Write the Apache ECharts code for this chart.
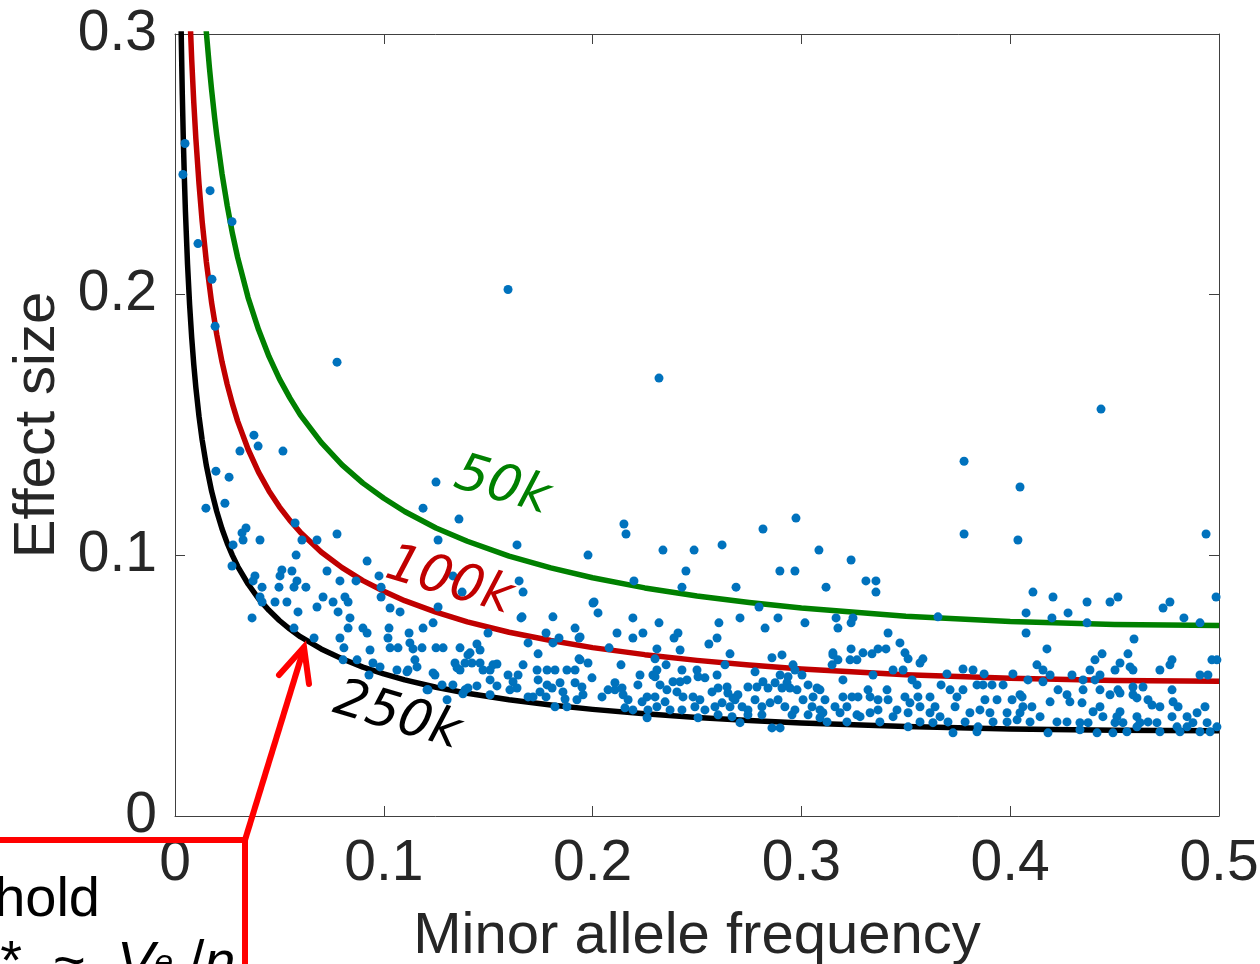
<!DOCTYPE html>
<html><head><meta charset="utf-8">
<script src="https://cdn.jsdelivr.net/npm/echarts@6/dist/echarts.min.js"></script>
<style>html,body{margin:0;padding:0;background:#fff;overflow:hidden}#chart{width:1260px;height:964px}</style>
</head><body><div id="chart"></div>
<script>
const xTickLabels = ['0','0.1','0.2','0.3','0.4','0.5'];
const yTickLabels = ['0','0.1','0.2','0.3'];
const xTitle = 'Minor allele frequency';
const yTitle = 'Effect size';
const curveNames = ['250k','100k','50k'];

const curveMaf250k = [0.0025,0.003,0.0035,0.004,0.0045,0.005,0.006,0.007,0.008,0.009,0.01,0.0115,0.013,0.015,0.0175,0.02,0.0225,0.025,0.0275,0.03,0.035,0.04,0.045,0.05,0.055,0.06,0.07,0.08,0.09,0.1,0.11,0.125,0.14,0.16,0.18,0.2,0.225,0.25,0.275,0.3,0.35,0.4,0.45,0.5];
const curveEffect250k = [0.3274,0.2989,0.2768,0.2590,0.2443,0.2318,0.2117,0.1961,0.1835,0.1731,0.1643,0.1533,0.1443,0.1345,0.1247,0.1168,0.1102,0.1047,0.1000,0.0958,0.0890,0.0834,0.0789,0.0750,0.0717,0.0688,0.0641,0.0603,0.0571,0.0545,0.0522,0.0494,0.0471,0.0446,0.0426,0.0409,0.0392,0.0378,0.0366,0.0357,0.0343,0.0334,0.0329,0.0327];
const curveMaf100k = [0.0065,0.007,0.008,0.009,0.01,0.0115,0.013,0.015,0.0175,0.02,0.0225,0.025,0.0275,0.03,0.035,0.04,0.045,0.05,0.055,0.06,0.07,0.08,0.09,0.1,0.11,0.125,0.14,0.16,0.18,0.2,0.225,0.25,0.275,0.3,0.35,0.4,0.45,0.5];
const curveEffect100k = [0.3217,0.3101,0.2902,0.2737,0.2598,0.2425,0.2282,0.2127,0.1971,0.1847,0.1743,0.1656,0.1581,0.1515,0.1407,0.1319,0.1247,0.1186,0.1134,0.1089,0.1013,0.0953,0.0903,0.0862,0.0826,0.0782,0.0745,0.0705,0.0673,0.0646,0.0619,0.0597,0.0579,0.0564,0.0542,0.0528,0.0520,0.0517];
const curveMaf50k = [0.014,0.015,0.0165,0.0175,0.019,0.02,0.0225,0.025,0.0275,0.03,0.035,0.04,0.045,0.05,0.055,0.06,0.07,0.08,0.09,0.1,0.11,0.125,0.14,0.16,0.18,0.2,0.225,0.25,0.275,0.3,0.35,0.4,0.45,0.5];
const curveEffect50k = [0.3111,0.3008,0.2870,0.2788,0.2678,0.2611,0.2465,0.2342,0.2235,0.2143,0.1989,0.1866,0.1763,0.1677,0.1604,0.1539,0.1433,0.1347,0.1277,0.1219,0.1168,0.1105,0.1054,0.0997,0.0952,0.0914,0.0875,0.0844,0.0819,0.0798,0.0766,0.0746,0.0735,0.0731];

// [minor allele frequency, effect size]
const snpPoints = [
[0.0048,0.258],[0.0038,0.2461],[0.0168,0.2399],[0.0273,0.228],[0.011,0.2196],[0.0177,0.2059],[0.0192,0.1879],[0.1595,0.202],[0.0776,0.1741],[0.2318,0.168],[0.4435,0.1561],[0.0378,0.1461],[0.0398,0.1419],[0.0311,0.14],[0.0517,0.14],[0.0196,0.1323],[0.0259,0.13],[0.3779,0.1361],[0.4047,0.1262],[0.125,0.1281],[0.0148,0.1181],[0.0239,0.12],[0.1188,0.1181],[0.136,0.1139],[0.2974,0.1143],[0.2816,0.1101],[0.215,0.112],[0.216,0.1082],[0.3779,0.1082],[0.4037,0.1059],[0.4938,0.1082],[0.0575,0.1124],[0.0776,0.1082],[0.034,0.1105],[0.0321,0.1086],[0.0326,0.1059],[0.0407,0.1059],[0.0278,0.104],[0.0608,0.1059],[0.068,0.1059],[0.058,0.1001],[0.126,0.1059],[0.1638,0.104],[0.1978,0.1001],[0.2337,0.102],[0.2486,0.102],[0.262,0.104],[0.3084,0.102],[0.3238,0.0982],[0.092,0.0978],[0.0273,0.0959],[0.0383,0.0921],[0.0374,0.0902],[0.0512,0.0944],[0.0503,0.0921],[0.056,0.094],[0.0584,0.0902],[0.057,0.0878],[0.0627,0.0878],[0.0498,0.0878],[0.0728,0.094],[0.079,0.0902],[0.0977,0.0921],[0.0987,0.0878],[0.0867,0.0902],[0.1331,0.0921],[0.1375,0.0859],[0.1648,0.0902],[0.1667,0.0859],[0.2198,0.0902],[0.2447,0.094],[0.2428,0.0878],[0.2687,0.0878],[0.2897,0.094],[0.2969,0.094],[0.3118,0.0878],[0.3309,0.0902],[0.3357,0.0902],[0.3357,0.0859],[0.4109,0.0859],[0.4205,0.084],[0.4516,0.084],[0.4368,0.0821],[0.4765,0.0821],[0.4986,0.084],[0.2007,0.0821],[0.4478,0.0821],[0.4732,0.0798],[0.4076,0.0779],[0.42,0.076],[0.4277,0.0779],[0.4368,0.0741],[0.4832,0.076],[0.4909,0.0741],[0.3166,0.076],[0.3238,0.0741],[0.3247,0.076],[0.3175,0.0721],[0.3654,0.0764],[0.4076,0.0702],[0.4176,0.0641],[0.4593,0.0679],[0.3415,0.0702],[0.3472,0.0664],
[0.0589,0.0783],[0.0369,0.076],[0.057,0.0721],[0.0666,0.0683],[0.0417,0.0821],[0.0479,0.0821],[0.0536,0.0821],[0.0407,0.084],[0.0709,0.084],[0.0757,0.0821],[0.0814,0.084],[0.0829,0.0821],[0.068,0.0802],[0.0781,0.0783],[0.0987,0.084],[0.103,0.0798],[0.1078,0.0783],[0.079,0.0683],[0.0809,0.0645],[0.0838,0.076],[0.0829,0.0721],[0.09,0.0721],[0.092,0.0702],[0.1025,0.0721],[0.102,0.0683],[0.103,0.0645],[0.1068,0.0645],[0.1121,0.0702],[0.1125,0.0664],[0.1183,0.0645],[0.1188,0.0721],[0.1236,0.0741],[0.125,0.0645],[0.1284,0.0645],[0.1365,0.0645],[0.1403,0.0618],[0.0934,0.0637],[0.0948,0.0587],[0.0872,0.0599],[0.0805,0.0599],[0.0929,0.0541],[0.0982,0.0572],[0.1063,0.056],[0.1116,0.056],[0.1149,0.0599],[0.1159,0.0572],[0.1245,0.0541],[0.1341,0.0587],[0.1351,0.0568],[0.1389,0.0587],[0.1279,0.0503],[0.1331,0.0503],[0.1212,0.0484],[0.1389,0.0484],[0.0417,0.0878],
[0.126,0.0802],[0.114,0.0641],[0.1413,0.0626],[0.1446,0.066],[0.1461,0.0637],[0.1499,0.0702],[0.1662,0.0764],[0.181,0.0764],[0.1777,0.0702],[0.181,0.0664],[0.1839,0.0683],[0.1691,0.0664],[0.1739,0.0622],[0.194,0.0687],[0.1916,0.0721],[0.2002,0.0817],[0.2026,0.0779],[0.2117,0.0702],[0.2079,0.0645],[0.1111,0.0553],[0.1236,0.0549],[0.1365,0.056],[0.1422,0.0587],[0.1461,0.0587],[0.1509,0.056],[0.1542,0.0583],[0.1475,0.056],[0.1403,0.0491],[0.1446,0.0499],[0.1509,0.0522],[0.1542,0.0499],[0.1595,0.0541],[0.1643,0.0541],[0.1619,0.0515],[0.1638,0.0491],[0.1667,0.058],[0.1734,0.056],[0.1782,0.056],[0.182,0.056],[0.1877,0.056],[0.1916,0.056],[0.194,0.0599],[0.1978,0.0587],[0.1739,0.0522],[0.1782,0.0503],[0.1748,0.0476],[0.1806,0.0491],[0.1844,0.0511],[0.1858,0.0476],[0.1916,0.0511],[0.1949,0.0495],[0.1954,0.0465],[0.1997,0.053],[0.2045,0.0457],[0.2074,0.0484],[0.2107,0.0484],[0.1303,0.0446],[0.1379,0.0469],[0.1509,0.0465],[0.1604,0.0484],[0.1691,0.0457],[0.1715,0.0457],[0.1777,0.0457],[0.182,0.0419],[0.1868,0.0449],[0.1877,0.0419],[0.1925,0.0446],[0.1207,0.0484],
[0.1657,0.076],[0.2193,0.076],[0.2318,0.0741],[0.2605,0.0741],[0.2706,0.076],[0.2797,0.0802],[0.2826,0.0721],[0.2888,0.076],[0.3017,0.0741],[0.1935,0.0683],[0.2193,0.0683],[0.2241,0.0702],[0.239,0.0683],[0.2409,0.0702],[0.2419,0.0637],[0.2557,0.066],[0.2596,0.0683],[0.2658,0.0622],[0.2308,0.0641],[0.2299,0.0603],[0.1935,0.0603],[0.2136,0.058],[0.1523,0.058],[0.2227,0.0541],[0.2289,0.0541],[0.2352,0.058],[0.2428,0.056],[0.25,0.056],[0.2596,0.0541],[0.2634,0.058],[0.2859,0.0607],[0.2907,0.0618],[0.296,0.058],[0.3151,0.0618],[0.3147,0.058],[0.2898,0.0541],[0.2778,0.0553],[0.2308,0.056],[0.2299,0.0534],[0.2505,0.0534],[0.2538,0.053],[0.2969,0.056],[0.3003,0.0541],[0.2936,0.0534],
[0.2107,0.0511],[0.2141,0.0491],[0.2146,0.0465],[0.217,0.0446],[0.2217,0.0503],[0.2261,0.0457],[0.2299,0.0457],[0.2323,0.0503],[0.2356,0.0484],[0.2385,0.0515],[0.2419,0.0515],[0.2452,0.0522],[0.2404,0.0476],[0.2433,0.0457],[0.2481,0.0457],[0.2514,0.0446],[0.2572,0.0476],[0.2601,0.0491],[0.2644,0.0495],[0.2648,0.0472],[0.2672,0.0453],[0.2696,0.0465],[0.2744,0.0495],[0.2787,0.0495],[0.2816,0.0515],[0.284,0.0491],[0.2874,0.0511],[0.2907,0.0491],[0.2931,0.0511],[0.2945,0.0491],[0.2979,0.0484],[0.3032,0.0503],[0.3075,0.0491],[0.3056,0.0457],[0.2155,0.0415],[0.2193,0.0407],[0.2237,0.0438],[0.2265,0.0407],[0.2308,0.0419],[0.2347,0.0438],[0.2371,0.0407],[0.2428,0.0407],[0.249,0.0419],[0.2538,0.0407],[0.2586,0.0419],[0.262,0.0434],[0.2658,0.0419],[0.2682,0.0446],[0.2716,0.0419],[0.2744,0.0407],[0.2778,0.0446],[0.2811,0.0419],[0.285,0.0434],[0.2888,0.0446],[0.2921,0.0419],[0.2969,0.0407],[0.3008,0.0446],[0.3051,0.0419],[0.3089,0.0407],[0.2261,0.0377],[0.2505,0.0377],[0.2601,0.0388],[0.2668,0.0381],[0.2706,0.0358],[0.2744,0.0388],[0.2811,0.0388],[0.2859,0.0338],[0.2898,0.0338],[0.2955,0.0388],[0.3032,0.0388],[0.3089,0.0377],
[0.3151,0.0626],[0.3175,0.0599],[0.3238,0.0641],[0.3233,0.0599],[0.3266,0.0599],[0.3295,0.0626],[0.3338,0.0622],[0.3367,0.0641],[0.3405,0.0641],[0.3496,0.0626],[0.3511,0.0603],[0.3568,0.0587],[0.3582,0.0603],[0.3439,0.056],[0.3487,0.056],[0.353,0.0522],[0.3554,0.0503],[0.3199,0.0522],[0.3343,0.0541],[0.3697,0.0545],[0.3774,0.0564],[0.3822,0.056],[0.3875,0.0545],[0.4013,0.0545],[0.3089,0.0484],[0.3113,0.0446],[0.3161,0.0419],[0.3199,0.0457],[0.3242,0.0457],[0.3271,0.0457],[0.3319,0.0484],[0.3329,0.0457],[0.3367,0.0446],[0.341,0.0484],[0.3415,0.0446],[0.3496,0.0457],[0.352,0.0434],[0.3558,0.0457],[0.3616,0.0457],[0.364,0.0419],[0.3669,0.0503],[0.3712,0.0484],[0.3745,0.0457],[0.3774,0.0484],[0.3736,0.0419],[0.3841,0.0503],[0.387,0.0503],[0.3913,0.0503],[0.3966,0.0503],[0.3879,0.0446],[0.3937,0.0446],[0.4009,0.0446],[0.4047,0.0465],[0.4061,0.0419],[0.3103,0.0396],[0.3185,0.0396],[0.3218,0.0419],[0.3266,0.0388],[0.3329,0.0396],[0.3367,0.0407],[0.3458,0.0407],[0.3511,0.0396],[0.3568,0.0419],[0.3616,0.0396],[0.3664,0.0381],[0.3807,0.0396],[0.3855,0.0407],[0.3903,0.0396],[0.3985,0.0396],[0.4047,0.0396],[0.3123,0.0361],[0.3218,0.0361],[0.3281,0.0381],[0.3376,0.0361],[0.3439,0.0381],[0.3511,0.0342],[0.3568,0.0361],[0.363,0.0358],[0.3702,0.0361],[0.3784,0.0361],[0.3846,0.0342],[0.3918,0.0361],[0.3985,0.0361],[0.4033,0.0369],[0.3726,0.0319],[0.3841,0.0323],
[0.444,0.0622],[0.4406,0.0599],[0.4564,0.0622],[0.4526,0.0587],[0.4502,0.056],[0.4574,0.0572],[0.4588,0.056],[0.4775,0.0599],[0.4765,0.058],[0.4717,0.056],[0.4966,0.0599],[0.499,0.0599],[0.4128,0.058],[0.4157,0.056],[0.4191,0.0541],[0.4382,0.056],[0.443,0.0541],[0.4296,0.0541],[0.4349,0.0522],[0.4909,0.0541],[0.4947,0.0541],[0.4085,0.0522],[0.4157,0.0515],[0.4349,0.0484],[0.443,0.0484],[0.4516,0.0484],[0.4588,0.0495],[0.4636,0.0495],[0.4775,0.0484],[0.4406,0.0522],[0.4057,0.0457],[0.4229,0.0484],[0.4272,0.0465],[0.4286,0.0438],[0.4344,0.0434],[0.4191,0.0438],[0.4478,0.0465],[0.4526,0.0472],[0.4588,0.0465],[0.4607,0.0453],[0.466,0.0446],[0.4679,0.0426],[0.4717,0.0419],[0.478,0.0438],[0.4804,0.0419],[0.4933,0.0419],[0.4104,0.0419],[0.443,0.0419],[0.4397,0.04],[0.4526,0.04],[0.4607,0.0381],[0.4511,0.0381],[0.4444,0.0381],[0.4143,0.0381],[0.4095,0.0361],[0.4224,0.0361],[0.4272,0.0361],[0.4334,0.0358],[0.4373,0.0358],[0.4502,0.0358],[0.454,0.0358],[0.4622,0.0358],[0.466,0.0361],[0.4703,0.0358],[0.4775,0.0381],[0.4847,0.0381],[0.4895,0.0396],[0.4875,0.0358],[0.4943,0.0358],[0.499,0.0342],[0.4847,0.0342],[0.4799,0.0342],[0.4181,0.0319],[0.4334,0.0331],[0.4416,0.0319],[0.4492,0.0319],[0.4559,0.0323],[0.4607,0.0342],[0.4717,0.0323],[0.4813,0.0323],[0.4909,0.0323],[0.4957,0.0323]
];

const FONT = '"Liberation Sans", Arial, Helvetica, sans-serif';
const axisColor = '#404040';
const textColor = '#262626';

function pairs(xs, ys){ return xs.map((x,i)=>[x, ys[i]]); }

const chart = echarts.init(document.getElementById('chart'), null, {renderer:'canvas'});
const option = {
  animation: false,
  backgroundColor: '#ffffff',
  grid: {left:175, right:41, top:34, bottom:148, containLabel:false, outerBoundsMode:'none', show:false},
  xAxis: [
    {type:'value', min:0, max:0.5, interval:0.1, position:'bottom',
     name: xTitle, nameLocation:'middle', nameGap:92,
     nameTextStyle:{fontFamily:FONT, fontSize:58, color:textColor},
     axisLine:{show:true, onZero:false, lineStyle:{color:axisColor, width:1}},
     axisTick:{show:true, inside:true, length:10, lineStyle:{color:axisColor, width:1}},
     axisLabel:{show:true, margin:20, fontFamily:FONT, fontSize:57, color:textColor,
       formatter:(v)=>xTickLabels[Math.round(v*10)]},
     splitLine:{show:false}},
    {type:'value', min:0, max:0.5, interval:0.1, position:'top',
     axisLine:{show:true, onZero:false, lineStyle:{color:axisColor, width:1}},
     axisTick:{show:true, inside:true, length:10, lineStyle:{color:axisColor, width:1}},
     axisLabel:{show:false}, splitLine:{show:false}}
  ],
  yAxis: [
    {type:'value', min:0, max:0.3, interval:0.1, position:'left',
     name: yTitle, nameLocation:'middle', nameGap:106, nameRotate:90,
     nameTextStyle:{fontFamily:FONT, fontSize:58, color:textColor},
     axisLine:{show:true, onZero:false, lineStyle:{color:axisColor, width:1}},
     axisTick:{show:true, inside:true, length:10, lineStyle:{color:axisColor, width:1}},
     axisLabel:{show:true, margin:18, fontFamily:FONT, fontSize:57, color:textColor,
       formatter:(v)=>yTickLabels[Math.round(v*10)]},
     splitLine:{show:false}},
    {type:'value', min:0, max:0.3, interval:0.1, position:'right',
     axisLine:{show:true, onZero:false, lineStyle:{color:axisColor, width:1}},
     axisTick:{show:true, inside:true, length:10, lineStyle:{color:axisColor, width:1}},
     axisLabel:{show:false}, splitLine:{show:false}}
  ],
  series: [
    {type:'line', name:curveNames[2], data:pairs(curveMaf50k, curveEffect50k), xAxisIndex:0, yAxisIndex:0,
     showSymbol:false, smooth:false, clip:true, z:2,
     lineStyle:{color:'#008000', width:5.5, join:'round'}},
    {type:'line', name:curveNames[1], data:pairs(curveMaf100k, curveEffect100k), xAxisIndex:0, yAxisIndex:0,
     showSymbol:false, smooth:false, clip:true, z:2,
     lineStyle:{color:'#C00000', width:5.5, join:'round'}},
    {type:'line', name:curveNames[0], data:pairs(curveMaf250k, curveEffect250k), xAxisIndex:0, yAxisIndex:0,
     showSymbol:false, smooth:false, clip:true, z:2,
     lineStyle:{color:'#000000', width:5.5, join:'round'}},
    {type:'scatter', name:'SNPs', data:snpPoints, xAxisIndex:0, yAxisIndex:0,
     symbol:'circle', symbolSize:9, clip:true, z:3,
     itemStyle:{color:'#0072BD', opacity:1}}
  ],
  graphic: [
    {type:'text', x:502, y:487, rotation:-0.29, z:10,
     style:{text:curveNames[2], fill:'#008000', font:'italic 52px "DejaVu Sans"', align:'center', verticalAlign:'middle'}},
    {type:'text', x:449, y:582, rotation:-0.29, z:10,
     style:{text:curveNames[1], fill:'#C00000', font:'italic 52px "DejaVu Sans"', align:'center', verticalAlign:'middle'}},
    {type:'text', x:397, y:717, rotation:-0.29, z:10,
     style:{text:curveNames[0], fill:'#000000', font:'italic 52px "DejaVu Sans"', align:'center', verticalAlign:'middle'}},
    {type:'polyline', z:20, shape:{points:[[-5,840],[245,840],[245,975]]},
     style:{stroke:'#FF0000', lineWidth:6, fill:null, lineJoin:'miter'}},
    {type:'polyline', z:20, shape:{points:[[245,840],[304,648]]},
     style:{stroke:'#FF0000', lineWidth:6, fill:null}},
    {type:'polyline', z:20, shape:{points:[[279,675],[304,647],[309,684]]},
     style:{stroke:'#FF0000', lineWidth:6, fill:null, lineJoin:'miter', lineCap:'round'}},
    {type:'text', x:100, y:901, z:20,
     style:{text:'hold', fill:'#000000', font:'56px "Liberation Sans"', align:'right', verticalAlign:'middle'}},
    {type:'text', x:-32, y:964, z:20,
     style:{text:'{n|β*  ~  }{i|V}{s|e}{n| /}{i|n}', align:'left', verticalAlign:'middle',
       rich:{n:{fontFamily:'Liberation Sans', fontSize:56, fill:'#000'},
             i:{fontFamily:'Liberation Sans', fontStyle:'italic', fontSize:56, fill:'#000'},
             s:{fontFamily:'Liberation Sans', fontStyle:'italic', fontSize:34, fill:'#000'}}}}
  ]
};
chart.setOption(option);
</script>
</body></html>
